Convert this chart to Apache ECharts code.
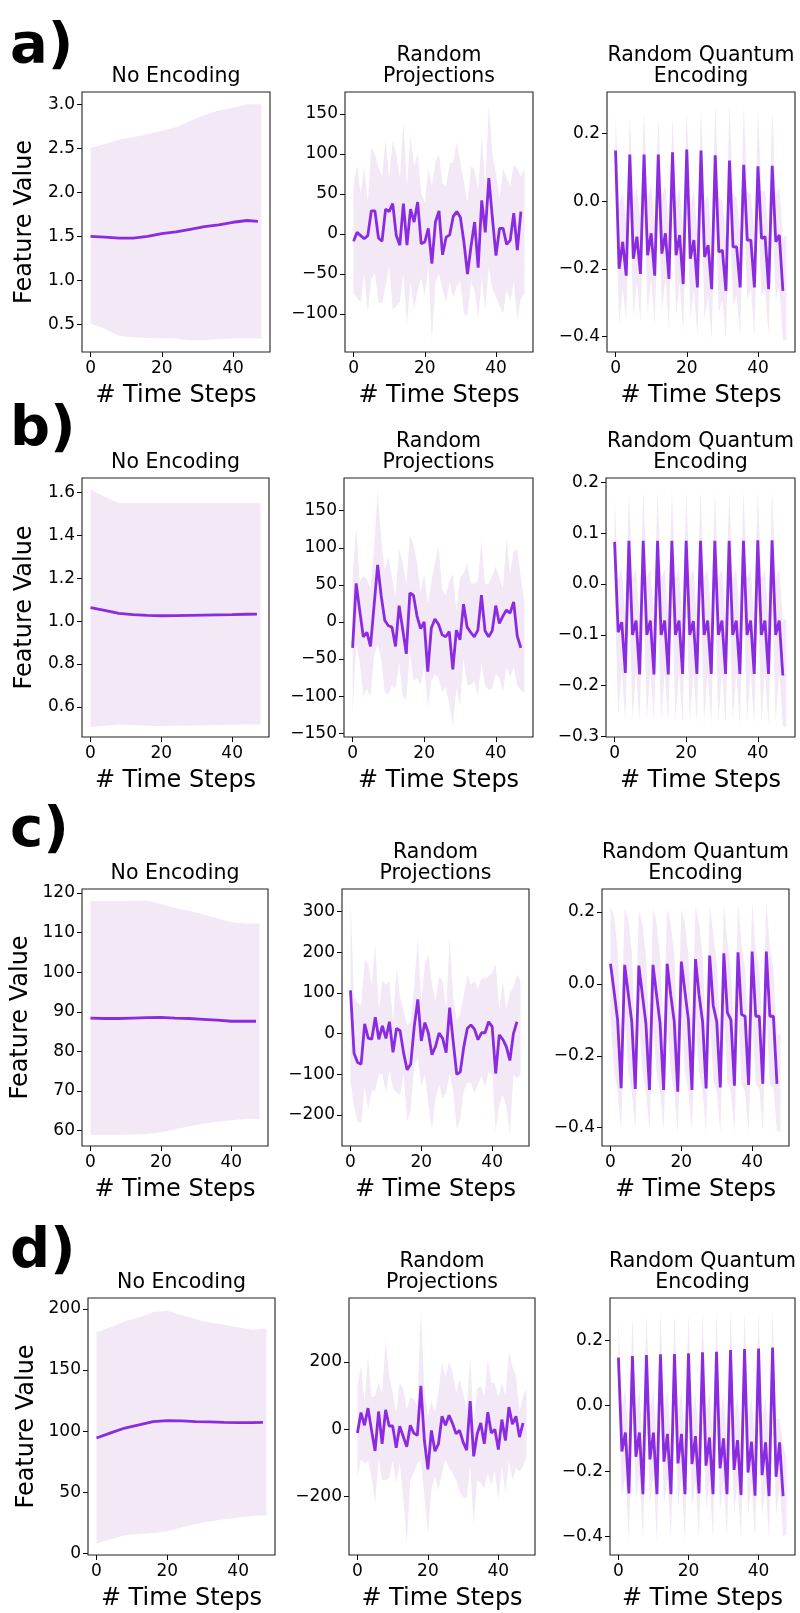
<!DOCTYPE html>
<html><head><meta charset="utf-8">
<script src="https://cdn.jsdelivr.net/npm/echarts@6/dist/echarts.min.js"></script>
<style>html,body{margin:0;padding:0;background:#fff}#c{width:800px;height:1613px}</style>
</head><body><div id="c"></div>
<script>
// ---------- shared steps ----------
const knotSteps = [0,4,8,12,16,20,24,28,32,36,40,44,48];
const knotMeanSteps = [0,4,8,12,16,20,24,28,32,36,40,44,47];
const meanSteps = Array.from({length:48},(_,i)=>i);
const bandSteps = Array.from({length:49},(_,i)=>i);
const xTicks = [0,20,40];
const panelTitles = ['No Encoding','Random\nProjections','Random Quantum\nEncoding'];
const rowLetters = ['a)','b)','c)','d)'];

// ---------- row a ----------
const a1Mean  = [1.50,1.49,1.48,1.48,1.50,1.53,1.55,1.58,1.61,1.63,1.66,1.68,1.67];
const a1Upper = [2.50,2.55,2.60,2.63,2.66,2.70,2.74,2.81,2.88,2.93,2.96,3.00,3.00];
const a1Lower = [0.51,0.45,0.37,0.35,0.345,0.34,0.34,0.32,0.32,0.33,0.34,0.34,0.34];
const a1YTicks = [0.5,1.0,1.5,2.0,2.5,3.0];

const a2Mean  = [-9,2,-2,-6,-2,29,29,-5,-9,31,28,38,-2,-14,38,-14,31,15,40,-12,-10,7,-37,15,29,-26,-4,-1,22,28,21,-10,-50,-15,15,-42,42,2,70,20,-27,7,7,-13,-8,26,-20,28];
const a2Upper = [60,87,50,84,40,108,100,83,72,118,70,117,100,70,140,60,123,85,100,50,40,82,60,90,100,63,60,88,90,115,90,65,40,85,80,55,122,60,163,100,75,45,82,70,60,87,82,72,82];
const a2Lower = [-75,-80,-85,-50,-98,-55,-50,-85,-87,-65,-40,-95,-90,-85,-50,-114,-60,-95,-70,-55,-78,-40,-133,-60,-50,-70,-85,-60,-80,-65,-60,-100,-102,-60,-70,-105,-55,-95,-40,-70,-78,-90,-100,-70,-85,-60,-108,-80,-75];
const a2YTicks = [-100,-50,0,50,100,150];

const a3Mean  = [0.150,-0.200,-0.120,-0.220, 0.138,-0.170,-0.105,-0.215, 0.138,-0.160,-0.095,-0.220, 0.138,-0.155,-0.095,-0.230, 0.145,-0.160,-0.100,-0.245, 0.153,-0.170,-0.115,-0.255, 0.150,-0.165,-0.130,-0.260, 0.136,-0.150,-0.145,-0.265, 0.120,-0.135,-0.135,-0.255, 0.108,-0.115,-0.115,-0.255, 0.103,-0.110,-0.105,-0.260, 0.105,-0.120,-0.100,-0.265];
const a3Upper = [0.26,-0.01,0.03,-0.07, 0.25,0.00,0.04,-0.06, 0.27,0.01,0.05,-0.07, 0.25,0.01,0.05,-0.08, 0.25,0.00,0.04,-0.09, 0.27,-0.01,0.03,-0.10, 0.28,0.00,0.02,-0.11, 0.29,0.01,0.00,-0.11, 0.29,0.02,0.01,-0.10, 0.28,0.03,0.02,-0.10, 0.27,0.03,0.03,-0.11, 0.27,0.02,0.04,-0.11, -0.10];
const a3Lower = [0.03,-0.37,-0.26,-0.35, 0.01,-0.34,-0.24,-0.36, 0.00,-0.33,-0.23,-0.37, 0.01,-0.33,-0.23,-0.38, 0.02,-0.34,-0.24,-0.39, 0.03,-0.35,-0.26,-0.40, 0.02,-0.35,-0.28,-0.41, 0.00,-0.33,-0.29,-0.41, -0.01,-0.31,-0.28,-0.40, -0.02,-0.29,-0.26,-0.40, -0.03,-0.28,-0.26,-0.40, -0.03,-0.29,-0.25,-0.41, -0.41];
const a3YTicks = [-0.4,-0.2,0.0,0.2];

// ---------- row b ----------
const b1Mean  = [1.063,1.050,1.036,1.030,1.027,1.025,1.026,1.027,1.028,1.029,1.030,1.032,1.033];
const b1Upper = [1.615,1.580,1.550,1.550,1.550,1.550,1.550,1.550,1.550,1.550,1.550,1.550,1.550];
const b1Lower = [0.507,0.512,0.518,0.516,0.512,0.510,0.512,0.514,0.515,0.516,0.517,0.518,0.518];
const b1YTicks = [0.6,0.8,1.0,1.2,1.4,1.6];

const b2Mean  = [-35,52,15,-20,-14,-33,22,77,35,2,-5,-7,-33,22,-10,-43,39,36,8,-9,0,-67,-8,4,-3,-17,-20,-13,-64,-11,-24,24,-7,-14,-20,-11,36,-12,-20,-12,22,-2,8,16,12,27,-19,-35];
const b2Upper = [60,128,55,62,58,45,100,178,110,70,88,60,35,98,80,50,117,105,80,40,65,25,55,80,102,45,35,55,65,15,60,65,80,52,52,55,110,50,52,62,75,60,45,112,65,96,98,60,28];
const b2Lower = [-128,-30,-55,-100,-90,-102,-45,-30,-50,-95,-98,-85,-90,-55,-100,-105,-40,-80,-75,-85,-60,-115,-80,-70,-75,-95,-88,-110,-140,-90,-113,-50,-85,-85,-80,-100,-55,-85,-92,-90,-70,-75,-95,-60,-75,-60,-85,-92,-95];
const b2YTicks = [-150,-100,-50,0,50,100,150];

const b3Mean  = [0.083,-0.095,-0.075,-0.175, 0.085,-0.100,-0.072,-0.178, 0.085,-0.100,-0.072,-0.178, 0.085,-0.100,-0.072,-0.178, 0.085,-0.100,-0.072,-0.177, 0.085,-0.100,-0.073,-0.177, 0.085,-0.100,-0.072,-0.177, 0.085,-0.100,-0.072,-0.177, 0.085,-0.100,-0.072,-0.177, 0.085,-0.100,-0.072,-0.177, 0.086,-0.100,-0.072,-0.177, 0.086,-0.100,-0.072,-0.180];
const b3Upper = [0.172,0.010,0.030,-0.070, 0.180,0.010,0.030,-0.070, 0.185,0.012,0.030,-0.068, 0.185,0.012,0.030,-0.068, 0.185,0.010,0.028,-0.070, 0.185,0.010,0.030,-0.070, 0.185,0.012,0.030,-0.070, 0.185,0.012,0.030,-0.070, 0.185,0.010,0.030,-0.070, 0.185,0.010,0.030,-0.070, 0.185,0.010,0.030,-0.070, 0.185,0.010,0.030,-0.070, -0.070];
const b3Lower = [-0.010,-0.260,-0.170,-0.270, -0.012,-0.265,-0.170,-0.272, -0.012,-0.268,-0.170,-0.275, -0.012,-0.270,-0.172,-0.275, -0.012,-0.270,-0.172,-0.275, -0.012,-0.272,-0.172,-0.276, -0.012,-0.272,-0.172,-0.276, -0.012,-0.272,-0.172,-0.277, -0.012,-0.272,-0.172,-0.277, -0.012,-0.272,-0.172,-0.278, -0.012,-0.272,-0.172,-0.278, -0.012,-0.272,-0.172,-0.280, -0.283];
const b3YTicks = [-0.3,-0.2,-0.1,0.0,0.1,0.2];

// ---------- row c ----------
const c1Mean  = [88.4,88.3,88.3,88.4,88.5,88.6,88.4,88.3,88.1,87.9,87.6,87.6,87.6];
const c1Upper = [118,118,118,118,118.1,117.2,116.2,115.5,114.6,113.6,112.6,112.3,112.3];
const c1Lower = [58.9,58.9,58.9,59.0,59.1,59.5,60.3,61.0,61.7,62.2,62.6,62.9,62.9];
const c1YTicks = [60,70,80,90,100,110,120];

const c2Mean  = [106,-48,-71,-75,24,-11,-14,40,-14,19,-12,29,-46,13,7,-48,-89,-75,17,84,-18,27,1,-52,-32,1,-11,-47,64,-20,-100,-94,-32,13,21,11,-15,2,2,29,17,-98,-3,-14,-32,-66,0,29];
const c2Upper = [330,90,75,70,180,170,120,220,60,130,120,130,30,160,90,55,20,30,120,235,80,170,195,120,80,140,130,60,235,90,30,50,95,145,120,130,110,135,135,140,150,170,60,130,60,100,115,145,130];
const c2Lower = [-115,-180,-215,-220,-130,-185,-140,-140,-100,-100,-145,-90,-135,-145,-150,-100,-215,-190,-80,-60,-130,-100,-175,-235,-160,-125,-160,-145,-100,-140,-235,-210,-140,-120,-120,-145,-125,-105,-130,-95,-100,-240,-175,-150,-180,-250,-100,-110,-100];
const c2YTicks = [-200,-100,0,100,200,300];

const c3Mean  = [0.056,-0.020,-0.100,-0.290, 0.053,-0.026,-0.105,-0.292, 0.051,-0.030,-0.110,-0.295, 0.053,-0.030,-0.110,-0.295, 0.056,-0.030,-0.105,-0.300, 0.062,-0.020,-0.100,-0.295, 0.069,-0.030,-0.105,-0.291, 0.079,-0.060,-0.105,-0.288, 0.085,-0.080,-0.100,-0.283, 0.088,-0.085,-0.090,-0.281, 0.090,-0.090,-0.090,-0.278, 0.090,-0.090,-0.090,-0.278];
const c3Upper = [0.215,0.190,0.100,-0.140, 0.210,0.180,0.090,-0.150, 0.205,0.170,0.080,-0.150, 0.210,0.170,0.080,-0.150, 0.210,0.170,0.080,-0.160, 0.210,0.170,0.080,-0.150, 0.215,0.170,0.080,-0.150, 0.220,0.140,0.060,-0.150, 0.225,0.120,0.040,-0.140, 0.230,0.110,0.040,-0.140, 0.230,0.100,0.040,-0.140, 0.230,0.100,0.040,-0.140, -0.140];
const c3Lower = [-0.100,-0.240,-0.300,-0.410, -0.100,-0.240,-0.300,-0.405, -0.100,-0.240,-0.300,-0.410, -0.100,-0.245,-0.300,-0.410, -0.100,-0.245,-0.300,-0.415, -0.095,-0.240,-0.300,-0.410, -0.090,-0.245,-0.300,-0.415, -0.085,-0.260,-0.300,-0.415, -0.080,-0.270,-0.300,-0.415, -0.080,-0.280,-0.300,-0.415, -0.080,-0.280,-0.290,-0.410, -0.080,-0.280,-0.290,-0.410, -0.410];
const c3YTicks = [-0.4,-0.2,0.0,0.2];

// ---------- row d ----------
const d1Mean  = [94.3,98.5,102.5,105,107.8,108.6,108.3,107.8,107.5,107.2,107,107,107.2];
const d1Upper = [181,185,190,193,197.5,198.5,195,191.5,189,187,185,183,184];
const d1Lower = [8,11.5,14.7,15.8,16.6,18,21,23.8,26,27.8,29,30.6,31];
const d1YTicks = [0,50,100,150,200];

const d2Mean  = [-11,50,12,63,-3,-64,53,-43,58,10,10,-55,9,-21,-52,12,-11,-18,129,-33,-119,-3,-65,-43,39,12,42,17,-13,-3,-38,-62,84,-80,-13,19,-43,51,-11,0,-60,29,-33,66,15,39,-23,19];
const d2Upper = [130,190,80,220,95,100,140,105,265,160,110,50,140,120,60,95,90,70,355,120,40,85,50,110,200,155,200,170,110,150,110,60,215,20,120,130,95,210,140,135,95,140,100,232,185,160,50,100,120];
const d2Lower = [-140,-90,-100,-95,-140,-220,-90,-150,-150,-145,-95,-160,-100,-200,-340,-150,-130,-100,-95,-200,-310,-180,-140,-180,-130,-90,-115,-130,-150,-185,-200,-205,-110,-285,-150,-160,-175,-130,-165,-125,-210,-110,-190,-95,-150,-115,-125,-110,-80];
const d2YTicks = [-200,0,200];

const d3Mean  = [0.147,-0.140,-0.082,-0.268, 0.152,-0.156,-0.082,-0.270, 0.155,-0.164,-0.082,-0.270, 0.157,-0.171,-0.086,-0.270, 0.158,-0.176,-0.086,-0.270, 0.160,-0.178,-0.093,-0.268, 0.163,-0.183,-0.097,-0.270, 0.165,-0.191,-0.100,-0.270, 0.170,-0.196,-0.105,-0.273, 0.173,-0.204,-0.110,-0.275, 0.175,-0.212,-0.112,-0.276, 0.178,-0.217,-0.112,-0.276];
const d3Upper = [0.265,0.000,0.050,-0.120, 0.275,-0.010,0.050,-0.120, 0.285,-0.020,0.050,-0.120, 0.290,-0.020,0.050,-0.120, 0.285,-0.030,0.050,-0.120, 0.285,-0.030,0.040,-0.120, 0.290,-0.030,0.040,-0.120, 0.290,-0.040,0.040,-0.120, 0.290,-0.040,0.030,-0.120, 0.290,-0.050,0.030,-0.120, 0.290,-0.050,0.030,-0.120, 0.295,-0.040,-0.040,-0.120, -0.160];
const d3Lower = [0.030,-0.280,-0.210,-0.420, 0.030,-0.290,-0.210,-0.410, 0.030,-0.300,-0.210,-0.420, 0.030,-0.300,-0.220,-0.410, 0.030,-0.310,-0.220,-0.420, 0.030,-0.310,-0.230,-0.410, 0.030,-0.320,-0.230,-0.410, 0.030,-0.320,-0.230,-0.410, 0.040,-0.330,-0.240,-0.410, 0.040,-0.330,-0.240,-0.410, 0.040,-0.340,-0.240,-0.410, 0.040,-0.340,-0.240,-0.400, -0.390];
const d3YTicks = [-0.4,-0.2,0.0,0.2];

// ---------- layout / style ----------
const LINE = '#8a2be2';
const BAND = 'rgb(243,233,246)';
const FONT = 'DejaVu Sans';
const rowBox = [[92,352],[478,737],[889,1146],[1298,1555]];
const colBox = [
  [[82,270],[345,533],[607,795]],
  [[82,269],[344,533],[606,795]],
  [[82,268],[342,529],[602,789]],
  [[88,275],[349,535],[610,795]]
];
const letterBase = [63,446,847,1268];
const ylabelX = [25,25,21,27];

const panels = [
  {r:0,c:0,xm:knotMeanSteps,xb:knotSteps,mean:a1Mean,up:a1Upper,lo:a1Lower,y:[0.186,3.14],t:a1YTicks,d:1},
  {r:0,c:1,xm:meanSteps,xb:bandSteps,mean:a2Mean,up:a2Upper,lo:a2Lower,y:[-147.5,177.5],t:a2YTicks,d:0},
  {r:0,c:2,xm:meanSteps,xb:bandSteps,mean:a3Mean,up:a3Upper,lo:a3Lower,y:[-0.446,0.323],t:a3YTicks,d:1},
  {r:1,c:0,xm:knotMeanSteps,xb:knotSteps,mean:b1Mean,up:b1Upper,lo:b1Lower,y:[0.46,1.667],t:b1YTicks,d:1},
  {r:1,c:1,xm:meanSteps,xb:bandSteps,mean:b2Mean,up:b2Upper,lo:b2Lower,y:[-155,194],t:b2YTicks,d:0},
  {r:1,c:2,xm:meanSteps,xb:bandSteps,mean:b3Mean,up:b3Upper,lo:b3Lower,y:[-0.301,0.2086],t:b3YTicks,d:1},
  {r:2,c:0,xm:knotMeanSteps,xb:knotSteps,mean:c1Mean,up:c1Upper,lo:c1Lower,y:[56.1,121.0],t:c1YTicks,d:0},
  {r:2,c:1,xm:meanSteps,xb:bandSteps,mean:c2Mean,up:c2Upper,lo:c2Lower,y:[-276,355],t:c2YTicks,d:0},
  {r:2,c:2,xm:meanSteps,xb:bandSteps,mean:c3Mean,up:c3Upper,lo:c3Lower,y:[-0.451,0.264],t:c3YTicks,d:1},
  {r:3,c:0,xm:knotMeanSteps,xb:knotSteps,mean:d1Mean,up:d1Upper,lo:d1Lower,y:[-1.5,209],t:d1YTicks,d:0},
  {r:3,c:1,xm:meanSteps,xb:bandSteps,mean:d2Mean,up:d2Upper,lo:d2Lower,y:[-373,390],t:d2YTicks,d:0},
  {r:3,c:2,xm:meanSteps,xb:bandSteps,mean:d3Mean,up:d3Upper,lo:d3Lower,y:[-0.456,0.329],t:d3YTicks,d:1}
];

function fmt(v,d){ return (d>0 ? Number(v).toFixed(d) : String(Math.round(v))).replace('-','\u2212'); }

const grid=[], xAxis=[], yAxis=[], series=[], graphic=[];
const tickFont = 17, titleFont = 20.5, labelFont = 24;

panels.forEach((p,i)=>{
  const [x0,x1] = colBox[p.r][p.c];
  const [y0,y1] = rowBox[p.r];
  grid.push({left:x0, top:y0, width:x1-x0, height:y1-y0, show:true, borderColor:'#222', borderWidth:1.1, backgroundColor:'transparent', z:5});
  xAxis.push({type:'value', gridIndex:i, min:-2.4, max:50.4, splitLine:{show:false},
    axisLine:{show:false,onZero:false},
    axisTick:{show:true, customValues:xTicks, length:5, lineStyle:{color:'#000',width:1}},
    axisLabel:{customValues:xTicks, margin:8, color:'#000', fontFamily:FONT, fontSize:tickFont}});
  yAxis.push({type:'value', gridIndex:i, min:p.y[0], max:p.y[1], splitLine:{show:false},
    axisLine:{show:false,onZero:false},
    axisTick:{show:true, customValues:p.t, length:5, lineStyle:{color:'#000',width:1}},
    axisLabel:{customValues:p.t, margin:7, color:'#000', fontFamily:FONT, fontSize:tickFont, formatter:(v)=>fmt(v,p.d)}});
  series.push({type:'custom', xAxisIndex:i, yAxisIndex:i, silent:true, z:1, clip:true,
    data:p.xb.map((x,j)=>[x,p.lo[j],p.up[j]]),
    encode:{x:0, y:[1,2]},
    renderItem:(params, api)=>{
      if (params.dataIndex !== 0) return null;
      const pts = [];
      for (let j=0;j<p.xb.length;j++) pts.push(api.coord([p.xb[j], p.up[j]]));
      for (let j=p.xb.length-1;j>=0;j--) pts.push(api.coord([p.xb[j], p.lo[j]]));
      return {type:'polygon', shape:{points:pts}, style:{fill:BAND}};
    }});
  series.push({type:'line', xAxisIndex:i, yAxisIndex:i, symbol:'none', silent:true,
    lineStyle:{color:LINE, width:2.8}, z:3, data:p.xm.map((x,j)=>[x,p.mean[j]])});
  const cx = (x0+x1)/2;
  graphic.push({type:'text', x:cx, y:y0-5, style:{text:panelTitles[p.c], font:`${titleFont}px "${FONT}"`, fill:'#000', align:'center', verticalAlign:'bottom', lineHeight:21}});
  graphic.push({type:'text', x:cx, y:y1+44, style:{text:'# Time Steps', font:`${labelFont}px "${FONT}"`, fill:'#000', align:'center', verticalAlign:'middle'}});
});

rowBox.forEach(([y0,y1],r)=>{
  graphic.push({type:'text', x:ylabelX[r], y:(y0+y1)/2, rotation:Math.PI/2, style:{text:'Feature Value', font:`${labelFont}px "${FONT}"`, fill:'#000', align:'center', verticalAlign:'middle'}});
  graphic.push({type:'text', x:10, y:letterBase[r]+12, style:{text:rowLetters[r], font:`bold 56px "DejaVu Sans"`, fill:'#000', align:'left', verticalAlign:'bottom'}});
});

const chart = echarts.init(document.getElementById('c'), null, {renderer:'canvas', width:800, height:1613});
chart.setOption({animation:false, backgroundColor:'#fff', grid, xAxis, yAxis, series, graphic});
</script></body></html>
